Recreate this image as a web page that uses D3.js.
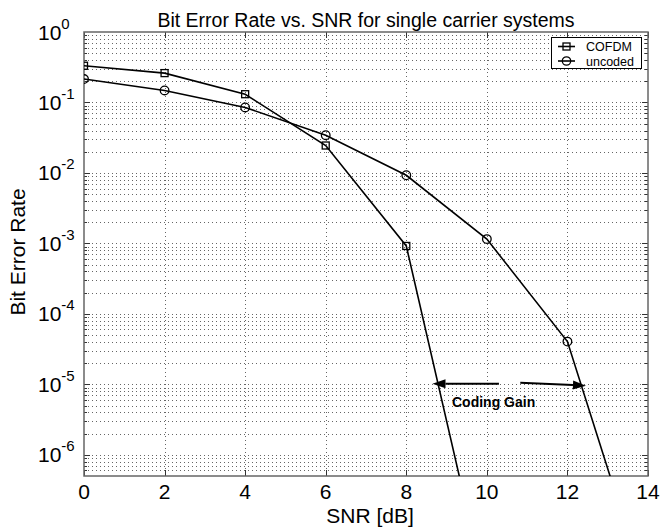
<!DOCTYPE html>
<html><head><meta charset="utf-8">
<script src="https://cdn.jsdelivr.net/npm/d3@7"></script>
<style>
body{margin:0;background:#fff;}
text{font-family:"Liberation Sans",Arial,Helvetica,sans-serif;fill:#000;}
</style></head>
<body><svg id="c" width="660" height="531"></svg>
<script>
const title = "Bit Error Rate vs. SNR for single carrier systems";
const xLabel = "SNR [dB]";
const yLabel = "Bit Error Rate";
const seriesNames = ["COFDM", "uncoded"];
const snrCOFDM = [0, 2, 4, 6, 8, 10];
const berCOFDM = [0.332, 0.261, 0.131, 0.0245, 9.2e-4, 1e-8];
const snrUncoded = [0, 2, 4, 6, 8, 10, 12, 14];
const berUncoded = [0.215, 0.148, 0.085, 0.0343, 0.00927, 0.00115, 4.04e-5, 1e-8];
const xTicks = [0, 2, 4, 6, 8, 10, 12, 14];
const yTickExps = [0, -1, -2, -3, -4, -5, -6];
const annotationText = "Coding Gain";
const arrowsFrom = [[10.3, 1.02e-5], [10.83, 1.05e-5]];
const arrowsTo = [[8.65, 1.02e-5], [12.46, 0.957e-5]];

const L = 84, R = 648, T = 32, B = 476;
const svg = d3.select("#c");
const x = d3.scaleLinear().domain([0, 14]).range([L, R]);
const y = d3.scaleLog().domain([5e-7, 1]).range([B, T]);

svg.append("rect").attr("x", L).attr("y", T).attr("width", R - L).attr("height", B - T).attr("fill", "#fff");

// grid
const gridColor = "#666";
const grid = svg.append("g").attr("stroke", gridColor).attr("stroke-width", 1).attr("stroke-dasharray", "1,3").attr("shape-rendering", "crispEdges");
const minorVals = [];
for (let e = -7; e < 0; e++) for (let m = 1; m <= 9; m++) {
  const v = m * Math.pow(10, e);
  if (v > 5e-7 * 1.0001 && v < 0.9999) minorVals.push(v);
}
grid.selectAll("line.h").data(minorVals).join("line")
  .attr("x1", L).attr("x2", R).attr("y1", d => Math.round(y(d)) + 0.5).attr("y2", d => Math.round(y(d)) + 0.5);
grid.selectAll("line.v").data(xTicks.slice(1, -1)).join("line")
  .attr("y1", T).attr("y2", B).attr("x1", d => Math.round(x(d)) + 0.5).attr("x2", d => Math.round(x(d)) + 0.5);

// ticks
const tk = svg.append("g").attr("stroke", "#333").attr("stroke-width", 1).attr("shape-rendering", "crispEdges");
xTicks.forEach(t => {
  const px = Math.round(x(t)) + 0.5;
  tk.append("line").attr("x1", px).attr("x2", px).attr("y1", B).attr("y2", B - 6);
  tk.append("line").attr("x1", px).attr("x2", px).attr("y1", T).attr("y2", T + 6);
});
minorVals.forEach(v => {
  const py = Math.round(y(v)) + 0.5;
  const major = Math.abs(Math.log10(v) - Math.round(Math.log10(v))) < 1e-6;
  const len = major ? 6 : 3;
  tk.append("line").attr("x1", L).attr("x2", L + len).attr("y1", py).attr("y2", py);
  tk.append("line").attr("x1", R).attr("x2", R - len).attr("y1", py).attr("y2", py);
});

// frame
svg.append("rect").attr("x", L).attr("y", T).attr("width", R - L).attr("height", B - T)
  .attr("fill", "none").attr("stroke", "#666").attr("stroke-width", 1.5);

// clip
svg.append("clipPath").attr("id", "clip").append("rect").attr("x", L).attr("y", T).attr("width", R - L).attr("height", B - T);
const plot = svg.append("g").attr("clip-path", "url(#clip)");
const line = d3.line().x(d => x(d[0])).y(d => y(d[1]));
const cof = snrCOFDM.map((s, i) => [s, berCOFDM[i]]);
const unc = snrUncoded.map((s, i) => [s, berUncoded[i]]);
[cof, unc].forEach(dat => plot.append("path").datum(dat).attr("d", line)
  .attr("fill", "none").attr("stroke", "#000").attr("stroke-width", 1.6));
plot.selectAll("rect.m").data(cof).join("rect")
  .attr("x", d => x(d[0]) - 3.5).attr("y", d => y(d[1]) - 3.5).attr("width", 7).attr("height", 7)
  .attr("fill", "none").attr("stroke", "#000").attr("stroke-width", 1.3);
plot.selectAll("circle.m").data(unc).join("circle")
  .attr("cx", d => x(d[0])).attr("cy", d => y(d[1])).attr("r", 4.3)
  .attr("fill", "none").attr("stroke", "#000").attr("stroke-width", 1.3);

// annotation arrows
arrowsFrom.forEach((f, i) => {
  const t = arrowsTo[i];
  const x1 = x(f[0]), y1 = y(f[1]), x2 = x(t[0]), y2 = y(t[1]);
  const ang = Math.atan2(y2 - y1, x2 - x1);
  const hl = 13, hw = 4.5;
  const bx = x2 - hl * Math.cos(ang), by = y2 - hl * Math.sin(ang);
  svg.append("line").attr("x1", x1).attr("y1", y1).attr("x2", bx).attr("y2", by)
    .attr("stroke", "#000").attr("stroke-width", 2);
  const px = -Math.sin(ang), py = Math.cos(ang);
  svg.append("path").attr("d", `M${x2},${y2}L${bx + px * hw},${by + py * hw}L${bx - px * hw},${by - py * hw}Z`).attr("fill", "#000");
});
svg.append("text").attr("x", 452).attr("y", 407).attr("font-size", 14).attr("font-weight", "bold").text(annotationText);

// tick labels
xTicks.forEach(t => {
  svg.append("text").attr("x", x(t)).attr("y", 499).attr("text-anchor", "middle").attr("font-size", 21).text(t);
});
yTickExps.forEach(e => {
  const py = y(Math.pow(10, e));
  const tx = svg.append("text").attr("x", 38).attr("y", py + 7.5).attr("font-size", 21);
  tx.append("tspan").text("10");
  tx.append("tspan").attr("dy", -11).attr("font-size", 15).text(e === 0 ? "0" : "-" + Math.abs(e));
});

// labels
svg.append("text").attr("x", (L + R) / 2).attr("y", 26.5).attr("text-anchor", "middle").attr("font-size", 19.5).text(title);
svg.append("text").attr("x", 370).attr("y", 523).attr("text-anchor", "middle").attr("font-size", 21).text(xLabel);
svg.append("text").attr("transform", "translate(25,252) rotate(-90)").attr("text-anchor", "middle").attr("font-size", 21).text(yLabel);

// legend
const lg = svg.append("g");
lg.append("rect").attr("x", 551.5).attr("y", 37.5).attr("width", 90).attr("height", 31)
  .attr("fill", "#fff").attr("stroke", "#000").attr("stroke-width", 1);
seriesNames.forEach((n, i) => {
  const ly = 46.5 + i * 14.5;
  lg.append("line").attr("x1", 558).attr("x2", 575).attr("y1", ly).attr("y2", ly).attr("stroke", "#000").attr("stroke-width", 1.6);
  if (i === 0) lg.append("rect").attr("x", 566.5 - 3.5).attr("y", ly - 3.5).attr("width", 7).attr("height", 7).attr("fill", "none").attr("stroke", "#000").attr("stroke-width", 1.3);
  else lg.append("circle").attr("cx", 566.5).attr("cy", ly).attr("r", 4.2).attr("fill", "none").attr("stroke", "#000").attr("stroke-width", 1.3);
  lg.append("text").attr("x", 586).attr("y", ly + 4.5).attr("font-size", 12.5).text(n);
});
</script></body></html>
